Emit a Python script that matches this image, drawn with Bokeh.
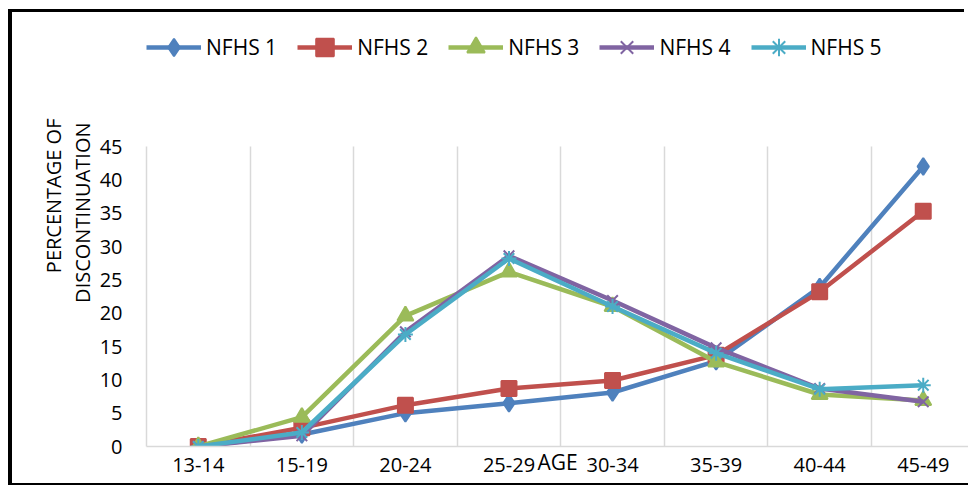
from bokeh.plotting import figure
from bokeh.models import Range1d, FixedTicker, Legend, LegendItem, Title
from bokeh.embed import file_html
from bokeh.resources import INLINE

categories = ["13-14", "15-19", "20-24", "25-29", "30-34", "35-39", "40-44", "45-49"]
nfhs1 = [0, 1.8, 5.0, 6.5, 8.1, 12.8, 23.9, 42.0]
nfhs2 = [0, 2.8, 6.2, 8.7, 9.9, 13.7, 23.2, 35.3]
nfhs3 = [0, 4.4, 19.6, 26.2, 21.0, 12.7, 7.8, 6.9]
nfhs4 = [0, 1.6, 17.2, 28.6, 21.9, 14.8, 8.7, 6.7]
nfhs5 = [0, 2.1, 16.8, 28.2, 21.0, 14.0, 8.6, 9.2]
series_names = ["NFHS 1", "NFHS 2", "NFHS 3", "NFHS 4", "NFHS 5"]
y_ticks = [0, 5, 10, 15, 20, 25, 30, 35, 40, 45]

colors = ["#4F81BD", "#C0504D", "#9BBB59", "#8064A2", "#4BACC6"]
markers = ["diamond", "square", "triangle", "x", "asterisk"]
msizes = [17, 15, 16, 15, 15]

FONT = "Open Sans"
xs = list(range(len(categories)))
y_max = y_ticks[-1]

p = figure(width=956, height=471, output_backend="svg", toolbar_location=None,
           x_range=Range1d(-0.5, 7.437), y_range=Range1d(0, 65.1),
           min_border_left=134, min_border_top=0, min_border_bottom=37,
           min_border_right=0)
p.styles = {"margin-left": "12px", "margin-top": "12px",
            "box-shadow": "-4px -3px 0 0 #000, 0 2px 0 0 #000, -4px 2px 0 0 #000"}
p.outline_line_color = None
p.background_fill_color = "white"
p.border_fill_color = "white"

# axes
p.xaxis.ticker = FixedTicker(ticks=xs)
p.xaxis.major_label_overrides = {i: c for i, c in zip(xs, categories)}
p.yaxis.ticker = FixedTicker(ticks=y_ticks)
p.yaxis.bounds = (0, y_max)
for ax in (p.xaxis[0], p.yaxis[0]):
    ax.axis_line_color = "#d9d9d9"
    ax.axis_line_width = 1.5
    ax.major_tick_line_color = None
    ax.minor_tick_line_color = None
    ax.major_tick_out = 0
    ax.major_tick_in = 0
    ax.minor_tick_out = 0
    ax.major_label_text_font = FONT
    ax.major_label_text_color = "black"
    ax.major_label_text_font_size = "20px"
p.xaxis.major_label_standoff = 11
p.yaxis.major_label_standoff = 24
p.xaxis.axis_label = "AGE"
p.xaxis.axis_label_text_font = FONT
p.xaxis.axis_label_text_font_size = "21px"
p.xaxis.axis_label_text_font_style = "normal"
p.xaxis.axis_label_text_color = "black"
p.xaxis.axis_label_standoff = -27

p.ygrid.grid_line_color = None
boundaries = [i - 0.5 for i in range(len(categories) + 1)]
p.xgrid.ticker = FixedTicker(ticks=boundaries)
p.xgrid.grid_line_color = "#d9d9d9"
p.xgrid.grid_line_width = 1.5
try:
    p.xgrid.cross_bounds = (0, y_max)
except Exception:
    p.xgrid.grid_line_color = None
    p.segment(x0=boundaries, y0=[0] * len(boundaries), x1=boundaries,
              y1=[y_max] * len(boundaries), line_color="#d9d9d9", line_width=1.5)

all_series = [nfhs1, nfhs2, nfhs3, nfhs4, nfhs5]
items = []
for name, ys, c, m, s in zip(series_names, all_series, colors, markers, msizes):
    ln = p.line(xs, ys, line_color=c, line_width=4.5)
    sc = p.scatter(xs, ys, marker=m, size=s, fill_color=c, line_color=c,
                   line_width=2)
    items.append(LegendItem(label=name, renderers=[ln, sc]))

legend = Legend(items=items, orientation="horizontal", location=(0, 377),
                glyph_width=55, glyph_height=44, label_standoff=5, spacing=20,
                padding=0, margin=0, border_line_color=None,
                background_fill_alpha=0, label_text_font=FONT,
                label_text_font_size="21px", label_text_color="black")
p.add_layout(legend, "center")

t_inner = Title(text="DISCONTINUATION", align="right", offset=110, standoff=-1,
                vertical_align="middle", text_font=FONT, text_font_size="20px",
                text_font_style="normal", text_color="black")
t_outer = Title(text="PERCENTAGE OF", align="right", offset=106, standoff=2,
                vertical_align="middle", text_font=FONT, text_font_size="20px",
                text_font_style="normal", text_color="black")
p.add_layout(t_inner, "left")
p.add_layout(t_outer, "left")

open("out.html", "w").write(file_html(p, INLINE))
